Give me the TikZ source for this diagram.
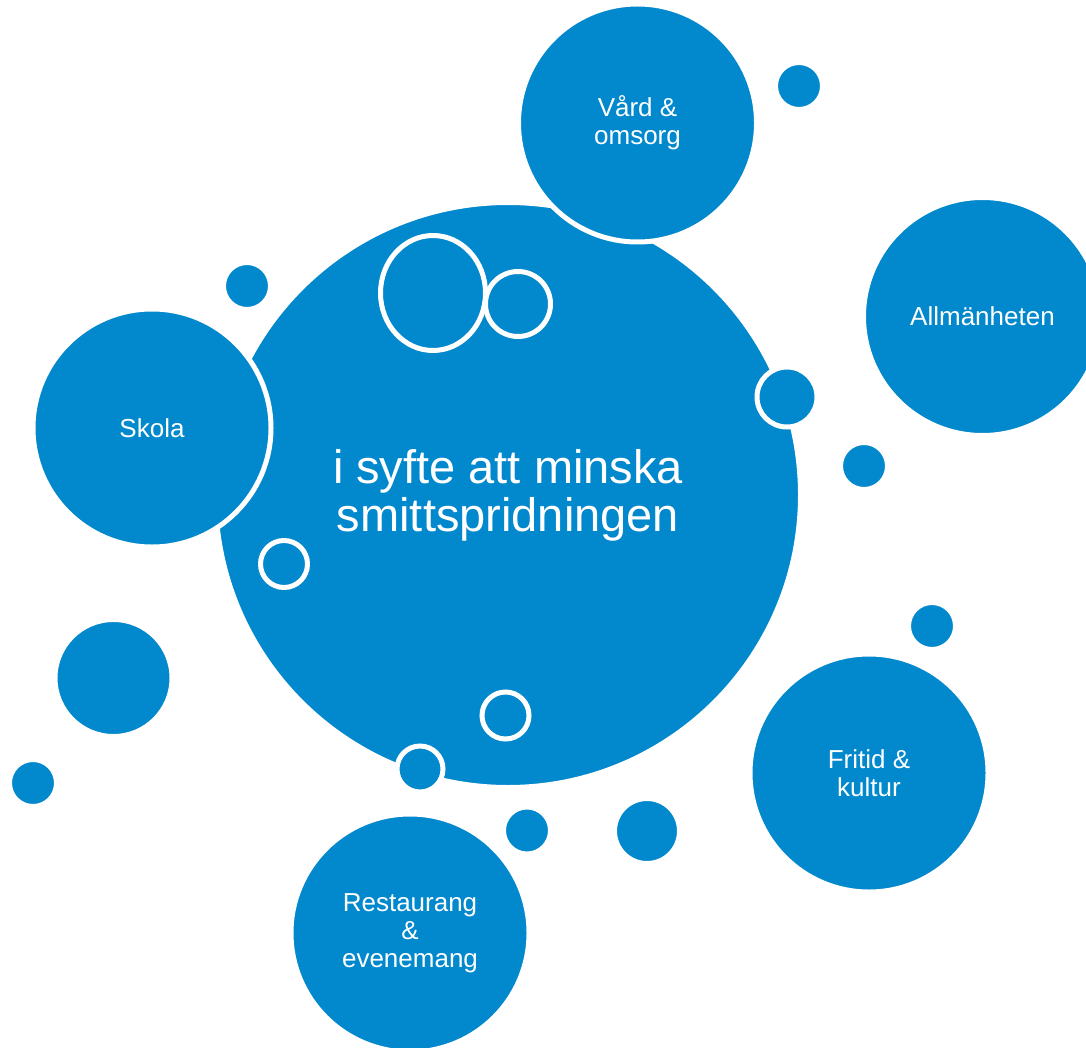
\documentclass[tikz,border=0pt]{standalone}
\usepackage{fontspec}
\setmainfont{Liberation Sans}
\usetikzlibrary{shapes.geometric}
\definecolor{myBlue}{HTML}{0288CC}

\begin{document}
\begin{tikzpicture}[x=0.5pt, y=-0.5pt]
	\tikzset{Bubble/.style = {circle, fill=myBlue, draw=white, line width=2.5pt, inner sep=0pt, text=white, align=center, font=\fontsize{13}{14}\selectfont}}
	\tikzset{Dot/.style = {Bubble, minimum size=#1}}
	\useasboundingbox (0,0) rectangle (1086,1048);
	
	% Mitte
	\node[Bubble, minimum size=292.5pt, font=\fontsize{23.5}{24}\selectfont] (mitt) at (508,495) {i syfte att minska\\smittspridningen};
	
	% Ringe
	\node[Bubble, ellipse, minimum width=52.5pt, minimum height=57.5pt] (r1) at (433,293) {};
	\node[Dot=32.5pt] (r2) at (518,304) {};
	\node[Dot=30pt] (r3) at (787,397) {};
	\node[Dot=23.5pt] (r4) at (284,564) {};
	\node[Dot=23.5pt] (r5) at (505.5,715.5) {};
	\node[Dot=23pt] (r6) at (420,769) {};
	
	% Bereiche
	\node[Bubble, minimum size=119pt] (vard) at (637.5,123) {V\aa rd \&\\omsorg};
	\node[Bubble, minimum size=119pt] (allm) at (982.5,316.5) {Allm\"anheten};
	\node[Bubble, minimum size=119pt] (skola) at (152,428) {Skola};
	\node[Bubble, minimum size=119pt] (fritid) at (869,773) {Fritid \&\\kultur};
	\node[Bubble, minimum size=119pt] (rest) at (410,933) {Restaurang\\\&\\evenemang};
	
	% Punkte
	\node[Dot=23.5pt] (d1) at (799,86) {};
	\node[Dot=23.5pt] (d2) at (247,286) {};
	\node[Dot=23.5pt] (d3) at (864,466) {};
	\node[Dot=23.5pt] (d4) at (932,626) {};
	\node[Dot=23.5pt] (d5) at (33,783) {};
	\node[Dot=23.5pt] (d6) at (527,830.5) {};
	\node[Dot=32.5pt] (d7) at (647,831) {};
	\node[Dot=58.5pt] (d8) at (113.5,678) {};
	
	\end{tikzpicture}
\end{document}
